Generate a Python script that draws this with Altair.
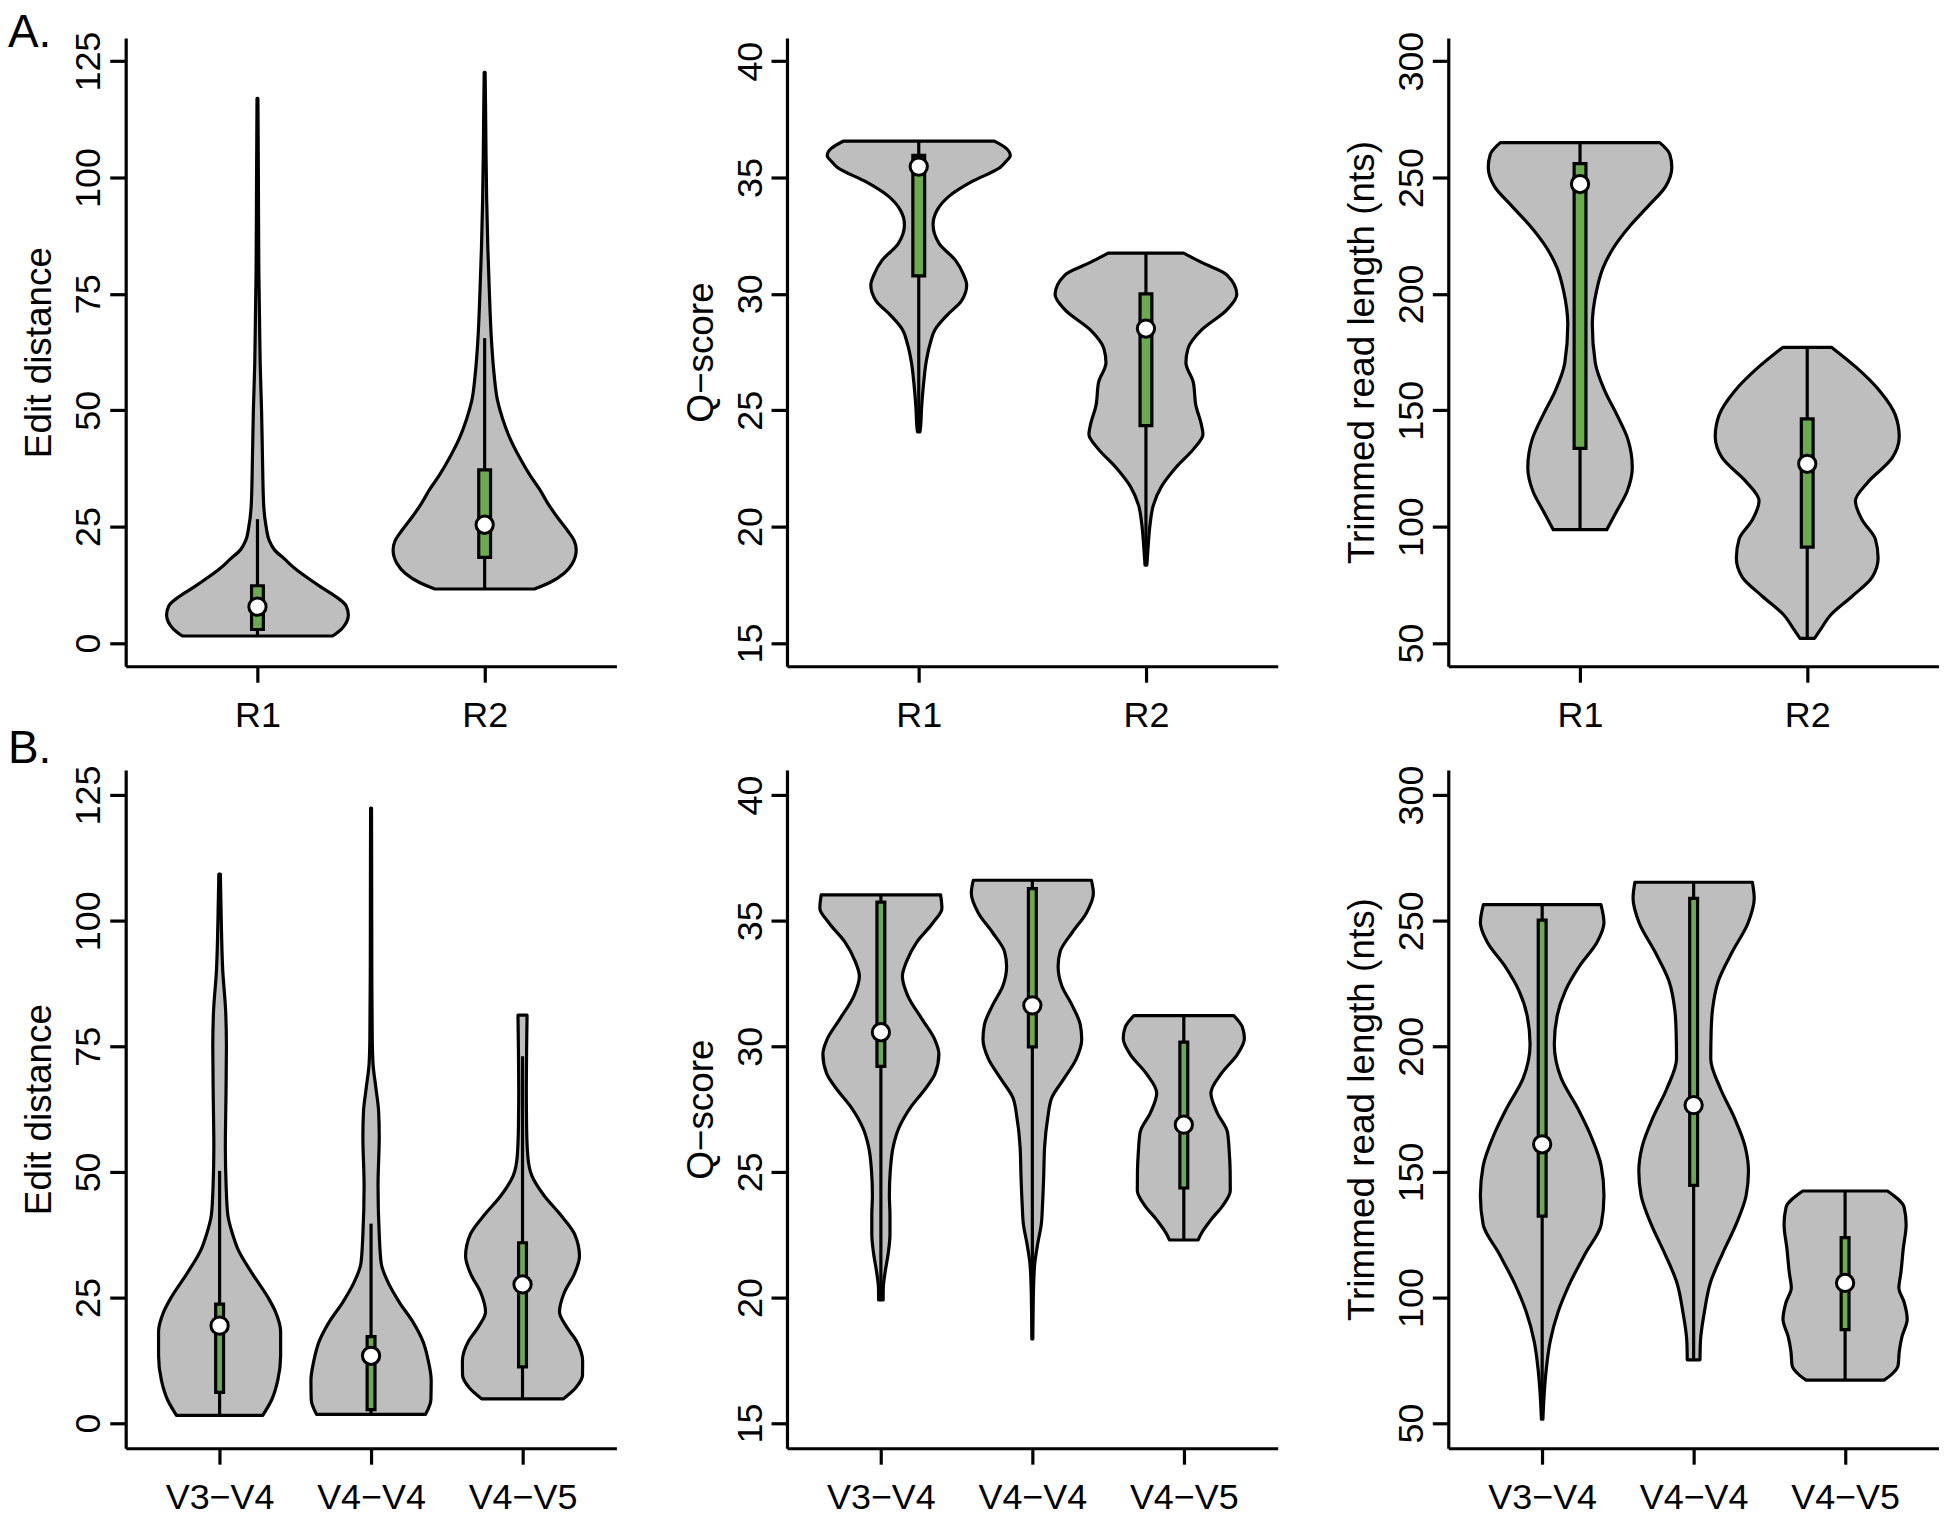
import altair as alt
import pandas as pd

FONT = "Liberation Sans"
GREY = "#BEBEBE"
GREEN = "#6AAB4C"
LW = 3.2

cats_A = ["R1", "R2"]
cats_B = ["V3\u2212V4", "V4\u2212V4", "V4\u2212V5"]

edit_ticks = [0, 25, 50, 75, 100, 125]
q_ticks = [15, 20, 25, 30, 35, 40]
len_ticks = [50, 100, 150, 200, 250, 300]

# ---- A. Edit distance (value, half width in category units); stats = [whisker lo, Q1, median, Q3, whisker hi]
editA_R1_value = [1.5, 3, 6, 8, 10, 12, 14, 16, 18, 20, 22, 25, 30, 40, 50, 60, 70, 80, 100, 117]
editA_R1_width = [0.33, 0.37, 0.40, 0.39, 0.344, 0.28, 0.22, 0.165, 0.12, 0.075, 0.052, 0.038, 0.027, 0.022, 0.018, 0.012, 0.009, 0.006, 0.004, 0.002]
editA_R1_stats = [1.5, 2.9, 7.8, 12.3, 26.6]
editA_R2_value = [11.6, 13, 15, 17, 20, 22, 24, 27, 30, 33, 36, 40, 44, 48, 52, 58, 65, 75, 85, 95, 105, 115, 122.6]
editA_R2_width = [0.219, 0.287, 0.35, 0.385, 0.403, 0.394, 0.367, 0.32, 0.278, 0.242, 0.2, 0.152, 0.111, 0.08, 0.057, 0.041, 0.03, 0.021, 0.014, 0.009, 0.006, 0.004, 0.002]
editA_R2_stats = [11.6, 18.4, 25.4, 37.2, 65.5]

# ---- A. Q-score
qA_R1_value = [24.07, 24.17, 25.2, 26.22, 27.04, 27.86, 28.47, 29.09, 29.7, 30.38, 30.83, 31.45, 32.16, 32.98, 33.6, 34.2, 34.82, 35.43, 35.7, 35.95, 36.25, 36.56]
qA_R1_width = [0.005, 0.007, 0.013, 0.022, 0.032, 0.05, 0.072, 0.125, 0.188, 0.211, 0.197, 0.161, 0.09, 0.063, 0.081, 0.134, 0.233, 0.358, 0.385, 0.403, 0.385, 0.333]
qA_R1_stats = [24.07, 30.77, 35.47, 35.95, 36.56]
qA_R2_value = [18.34, 19.05, 20.08, 20.9, 21.72, 22.53, 23.35, 23.97, 24.38, 25.2, 26.22, 27.04, 27.65, 28.47, 29.3, 29.97, 30.83, 31.34, 31.75]
qA_R2_width = [0.004, 0.009, 0.018, 0.032, 0.068, 0.131, 0.211, 0.251, 0.244, 0.22, 0.208, 0.176, 0.185, 0.247, 0.355, 0.40, 0.355, 0.247, 0.166]
qA_R2_stats = [18.34, 24.34, 28.51, 30.0, 31.75]

# ---- A. Trimmed read length
lenA_R1_value = [98.7, 106.9, 115.1, 125.4, 137.7, 147.9, 158.1, 170.4, 186.8, 201.1, 211.4, 219.6, 229.8, 238, 246.2, 254.4, 260, 265]
lenA_R1_width = [0.118, 0.163, 0.207, 0.23, 0.21, 0.163, 0.11, 0.067, 0.054, 0.072, 0.102, 0.146, 0.225, 0.303, 0.377, 0.404, 0.395, 0.351]
lenA_R1_stats = [98.7, 133.6, 247.2, 256, 265]
lenA_R2_value = [52.0, 55.7, 61.9, 70.1, 78.3, 86.5, 94.6, 102.8, 111, 119.2, 129.5, 138.7, 147.9, 158.1, 168.4, 177]
lenA_R2_width = [0.032, 0.058, 0.102, 0.198, 0.286, 0.312, 0.3, 0.242, 0.212, 0.268, 0.374, 0.405, 0.388, 0.321, 0.216, 0.108]
lenA_R2_stats = [52.0, 91.2, 127, 146.3, 177]

# ---- B. Edit distance
editB_V34_value = [1.55, 4.65, 8.5, 13.4, 18.2, 22.1, 25, 29.8, 34.7, 37.6, 41.5, 47.3, 55, 65, 75, 82, 90, 100, 109.3]
editB_V34_width = [0.285, 0.344, 0.384, 0.403, 0.403, 0.37, 0.32, 0.215, 0.12, 0.086, 0.054, 0.043, 0.038, 0.042, 0.045, 0.04, 0.021, 0.011, 0.005]
editB_V34_stats = [1.55, 6.1, 19.4, 23.7, 50.2]
editB_V44_value = [1.74, 4.65, 8.5, 12.4, 16.3, 20.2, 24, 27.9, 31.8, 37.6, 47.3, 57, 62, 66.7, 71.5, 76.4, 90, 110, 122.4]
editB_V44_width = [0.36, 0.395, 0.397, 0.378, 0.342, 0.275, 0.188, 0.114, 0.067, 0.054, 0.046, 0.054, 0.05, 0.032, 0.013, 0.008, 0.005, 0.004, 0.003]
editB_V44_stats = [1.74, 2.7, 13.4, 17.2, 39.7]
editB_V45_value = [4.84, 7, 9.5, 12.4, 16.3, 19.2, 22.1, 26, 29.8, 33.2, 37.6, 41.5, 45.3, 49.2, 53.1, 58.9, 66.7, 74.4, 81.2]
editB_V45_width = [0.27, 0.35, 0.396, 0.397, 0.357, 0.29, 0.244, 0.276, 0.344, 0.376, 0.344, 0.25, 0.142, 0.062, 0.035, 0.027, 0.025, 0.027, 0.03]
editB_V45_stats = [4.84, 11.2, 27.6, 35.9, 73]

# ---- B. Q-score
qB_V34_value = [19.9, 20.39, 20.97, 21.74, 22.52, 23.29, 24.07, 25.04, 26.0, 26.78, 27.56, 28.33, 28.91, 29.69, 30.27, 31.05, 32.02, 32.79, 33.37, 34.15, 34.92, 35.5, 36.03]
qB_V34_width = [0.015, 0.016, 0.027, 0.048, 0.06, 0.06, 0.056, 0.062, 0.081, 0.121, 0.195, 0.296, 0.358, 0.383, 0.356, 0.275, 0.177, 0.142, 0.169, 0.237, 0.344, 0.403, 0.394]
qB_V34_stats = [19.9, 29.2, 30.56, 35.74, 36.03]
qB_V44_value = [18.35, 19.42, 20.39, 21.36, 22.13, 22.91, 23.68, 24.84, 26.0, 27.17, 27.95, 28.72, 29.5, 30.27, 30.85, 31.63, 32.4, 33.18, 33.76, 34.53, 35.31, 36.09, 36.61]
qB_V44_width = [0.003, 0.005, 0.008, 0.016, 0.035, 0.059, 0.067, 0.075, 0.081, 0.102, 0.128, 0.21, 0.29, 0.326, 0.317, 0.263, 0.195, 0.17, 0.183, 0.263, 0.357, 0.403, 0.39]
qB_V44_stats = [18.35, 29.98, 31.63, 36.28, 36.61]
qB_V45_value = [22.29, 22.52, 23.1, 23.68, 24.26, 25.04, 25.81, 26.59, 27.36, 28.14, 28.91, 29.69, 30.31, 30.76, 31.22]
qB_V45_width = [0.095, 0.113, 0.18, 0.26, 0.307, 0.306, 0.3, 0.288, 0.22, 0.179, 0.247, 0.355, 0.4, 0.387, 0.33]
qB_V45_stats = [22.29, 24.36, 26.88, 30.17, 31.22]

# ---- B. Trimmed read length
lenB_V34_value = [51.6, 61.2, 70.9, 82.6, 94.2, 105.8, 117.4, 129.1, 140.7, 152.3, 164, 175.6, 187.2, 200.8, 212.4, 222.1, 231.8, 241.5, 249.2, 256.4]
lenB_V34_width = [0.005, 0.013, 0.026, 0.053, 0.105, 0.184, 0.284, 0.39, 0.408, 0.39, 0.324, 0.232, 0.126, 0.08, 0.1, 0.153, 0.245, 0.363, 0.408, 0.388]
lenB_V34_stats = [51.6, 132.4, 161, 250.2, 256.4]
lenB_V44_value = [75.2, 82.6, 94.2, 105.8, 117.4, 129.1, 140.7, 150.4, 160.1, 171.7, 183.3, 195, 206.6, 214.3, 226, 237.6, 249.2, 258.9, 265.3]
lenB_V44_width = [0.042, 0.045, 0.071, 0.11, 0.19, 0.28, 0.347, 0.362, 0.34, 0.268, 0.176, 0.113, 0.116, 0.124, 0.163, 0.255, 0.36, 0.4, 0.388]
lenB_V44_stats = [75.2, 144.6, 176.6, 258.9, 265.3]
lenB_V45_value = [67.1, 69, 72.9, 78.7, 84.5, 91.3, 98.1, 103.9, 109.7, 119.4, 129.1, 135.9, 142.4]
lenB_V45_width = [0.257, 0.3, 0.35, 0.358, 0.376, 0.41, 0.39, 0.355, 0.368, 0.384, 0.403, 0.39, 0.28]
lenB_V45_stats = [67.1, 87.2, 105.8, 123.8, 142.4]

PANEL_W = 492
HEIGHT_A = 630
HEIGHT_B = 680


def panel(cats, values, widths, stats, ticks, ytitle, w, h, letter, letter_y):
    n = len(cats)
    rows = []
    for i, (vals, wids) in enumerate(zip(values, widths)):
        for v, hw in zip(vals, wids):
            rows.append({"group": cats[i], "pos": i + 1, "v": v, "hw": hw})
    vdf = pd.DataFrame(rows)
    sdf = pd.DataFrame({
        "group": cats,
        "pos": list(range(1, n + 1)),
        "wlo": [s[0] for s in stats],
        "q1": [s[1] for s in stats],
        "med": [s[2] for s in stats],
        "q3": [s[3] for s in stats],
        "whi": [s[4] for s in stats],
    })
    lo, hi = min(ticks), max(ticks)
    ext = 0.04 * (hi - lo)
    yscale = alt.Scale(domain=[lo - ext, hi + ext], nice=False, zero=False)
    xscale = alt.Scale(domain=[0.5 - 0.04 * n, n + 0.5 + 0.04 * n], nice=False, zero=False)
    label_expr = "[" + ",".join("'" + c + "'" for c in cats) + "][datum.value - 1]"
    yaxis = alt.Axis(values=ticks, title=ytitle, grid=False,
                     domainColor="black", domainWidth=LW, tickColor="black", tickWidth=LW,
                     tickSize=16, labelAngle=270, labelAlign="center", labelBaseline="alphabetic",
                     labelPadding=10, labelFontSize=36, labelFont=FONT, labelColor="black",
                     labelOverlap=False, labelFlush=False,
                     titleFontSize=37, titleFont=FONT, titleFontWeight="normal", titleColor="black",
                     titleAngle=270, titleX=-86, titleY=h / 2, titleAlign="center", titleBaseline="middle")
    xaxis = alt.Axis(values=list(range(1, n + 1)), labelExpr=label_expr, title=None, grid=False,
                     domainColor="black", domainWidth=LW, tickColor="black", tickWidth=LW,
                     tickSize=16, labelAngle=0, labelAlign="center", labelBaseline="top",
                     labelPadding=16, labelFontSize=36, labelFont=FONT, labelColor="black",
                     labelOverlap=False, labelFlush=False)

    area = alt.Chart(vdf).transform_calculate(
        left="datum.pos - datum.hw", right="datum.pos + datum.hw"
    ).mark_area(orient="horizontal", interpolate="monotone", fill=GREY, stroke="black",
                strokeWidth=LW, strokeJoin="round").encode(
        y=alt.Y("v:Q", scale=yscale, axis=yaxis),
        x=alt.X("left:Q", scale=xscale, axis=xaxis),
        x2="right:Q",
        detail="group:N",
    )
    whisk = alt.Chart(sdf).mark_rule(color="black", strokeWidth=LW).encode(
        x=alt.X("pos:Q", scale=xscale, axis=xaxis),
        y=alt.Y("wlo:Q", scale=yscale, axis=yaxis),
        y2="whi:Q",
    )
    box = alt.Chart(sdf).transform_calculate(
        bl="datum.pos - 0.026", br="datum.pos + 0.026"
    ).mark_rect(fill=GREEN, stroke="black", strokeWidth=LW).encode(
        x=alt.X("bl:Q", scale=xscale, axis=xaxis),
        x2="br:Q",
        y=alt.Y("q1:Q", scale=yscale, axis=yaxis),
        y2="q3:Q",
    )
    med = alt.Chart(sdf).mark_point(shape="circle", filled=True, fill="white", stroke="black",
                                    strokeWidth=3, size=300, opacity=1).encode(
        x=alt.X("pos:Q", scale=xscale, axis=xaxis),
        y=alt.Y("med:Q", scale=yscale, axis=yaxis),
    )
    layers = [area, whisk, box, med]
    if letter:
        lab = alt.Chart(pd.DataFrame({"t": [letter]})).mark_text(
            align="left", baseline="alphabetic", fontSize=46, font=FONT, color="black"
        ).encode(text="t:N", x=alt.value(-118), y=alt.value(letter_y))
        layers.append(lab)
    return alt.layer(*layers).properties(width=w, height=h)


pA1 = panel(cats_A, [editA_R1_value, editA_R2_value], [editA_R1_width, editA_R2_width],
            [editA_R1_stats, editA_R2_stats], edit_ticks, "Edit distance", PANEL_W, HEIGHT_A, "A.", 9)
pA2 = panel(cats_A, [qA_R1_value, qA_R2_value], [qA_R1_width, qA_R2_width],
            [qA_R1_stats, qA_R2_stats], q_ticks, "Q\u2212score", PANEL_W, HEIGHT_A, None, 0)
pA3 = panel(cats_A, [lenA_R1_value, lenA_R2_value], [lenA_R1_width, lenA_R2_width],
            [lenA_R1_stats, lenA_R2_stats], len_ticks, "Trimmed read length (nts)", PANEL_W, HEIGHT_A, None, 0)
pB1 = panel(cats_B, [editB_V34_value, editB_V44_value, editB_V45_value],
            [editB_V34_width, editB_V44_width, editB_V45_width],
            [editB_V34_stats, editB_V44_stats, editB_V45_stats], edit_ticks, "Edit distance",
            PANEL_W, HEIGHT_B, "B.", -7)
pB2 = panel(cats_B, [qB_V34_value, qB_V44_value, qB_V45_value],
            [qB_V34_width, qB_V44_width, qB_V45_width],
            [qB_V34_stats, qB_V44_stats, qB_V45_stats], q_ticks, "Q\u2212score",
            PANEL_W, HEIGHT_B, None, 0)
pB3 = panel(cats_B, [lenB_V34_value, lenB_V44_value, lenB_V45_value],
            [lenB_V34_width, lenB_V44_width, lenB_V45_width],
            [lenB_V34_stats, lenB_V44_stats, lenB_V45_stats], len_ticks, "Trimmed read length (nts)",
            PANEL_W, HEIGHT_B, None, 0)

chart = alt.concat(pA1, pA2, pA3, pB1, pB2, pB3, columns=3,
                   spacing={"row": 104, "column": 171}, bounds="flush", align="each"
                   ).properties(padding=0).configure_view(stroke=None)

chart.save("out.html", embed_options={"renderer": "svg", "actions": False})
